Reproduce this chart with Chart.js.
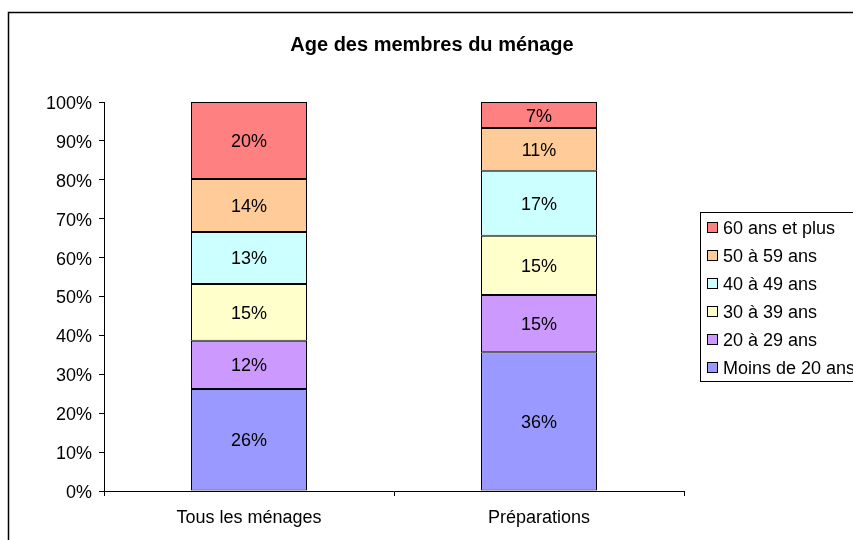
<!DOCTYPE html>
<html>
<head>
<meta charset="utf-8">
<script src="https://cdn.jsdelivr.net/npm/chart.js@4.4.0/dist/chart.umd.min.js"></script>
<style>
  html, body { margin: 0; padding: 0; background: #fff; }
  canvas { display: block; }
</style>
</head>
<body>
<canvas id="c" width="853" height="540"></canvas>
<script>
const chartTitle = "Age des membres du ménage";
const categories = ["Tous les ménages", "Préparations"];
const seriesNames = ["Moins de 20 ans", "20 à 29 ans", "30 à 39 ans", "40 à 49 ans", "50 à 59 ans", "60 ans et plus"];
const moins20 = [26.2, 35.7];
const de20a29 = [12.4, 14.7];
const de30a39 = [14.6, 15.2];
const de40a49 = [13.4, 16.7];
const de50a59 = [13.6, 11.0];
const plus60  = [19.8, 6.7];
const seriesValues = [moins20, de20a29, de30a39, de40a49, de50a59, plus60];
const seriesColors = ["#9999FF", "#CC99FF", "#FFFFCC", "#CCFFFF", "#FFCC99", "#FF8080"];
const yTickValues = [0, 10, 20, 30, 40, 50, 60, 70, 80, 90, 100];

const FONT = "'Liberation Sans', Arial, sans-serif";

const frameAndTitle = {
  id: 'frameAndTitle',
  beforeDraw(chart) {
    const ctx = chart.ctx;
    ctx.save();
    ctx.fillStyle = '#fff';
    ctx.fillRect(0, 0, chart.width, chart.height);
    ctx.strokeStyle = '#000';
    ctx.lineWidth = 1.5;
    ctx.beginPath();
    ctx.moveTo(8.5, chart.height + 2);
    ctx.lineTo(8.5, 12.5);
    ctx.lineTo(chart.width + 2, 12.5);
    ctx.stroke();
    ctx.fillStyle = '#000';
    ctx.font = "bold 20px " + FONT;
    ctx.textAlign = 'center';
    ctx.textBaseline = 'middle';
    ctx.fillText(chartTitle, 432, 45);
    ctx.restore();
  }
};

const valueLabels = {
  id: 'valueLabels',
  afterDatasetsDraw(chart) {
    const ctx = chart.ctx;
    ctx.save();
    ctx.fillStyle = '#000';
    ctx.font = "18px " + FONT;
    ctx.textAlign = 'center';
    ctx.textBaseline = 'middle';
    chart.data.datasets.forEach((ds, di) => {
      const meta = chart.getDatasetMeta(di);
      meta.data.forEach((bar, i) => {
        const v = ds.data[i];
        const yMid = (bar.y + bar.base) / 2;
        ctx.fillText(Math.round(v) + '%', bar.x, yMid + 1.5);
      });
    });
    ctx.restore();
  }
};

const customLegend = {
  id: 'customLegend',
  afterDraw(chart) {
    const ctx = chart.ctx;
    const x0 = 700.5, y0 = 212.5, w = 200, h = 169;
    ctx.save();
    ctx.fillStyle = '#fff';
    ctx.fillRect(x0, y0, w, h);
    ctx.strokeStyle = '#000';
    ctx.lineWidth = 1;
    ctx.strokeRect(x0, y0, w, h);
    ctx.font = "18px " + FONT;
    ctx.textAlign = 'left';
    ctx.textBaseline = 'middle';
    const items = chart.data.datasets.slice().reverse();
    items.forEach((ds, k) => {
      const cy = 228 + k * 28;
      ctx.fillStyle = ds.backgroundColor;
      ctx.fillRect(707.5, cy - 5.5, 10, 10);
      ctx.strokeStyle = '#000';
      ctx.strokeRect(707.5, cy - 5.5, 10, 10);
      ctx.fillStyle = '#000';
      ctx.fillText(ds.label, 723, cy + 1);
    });
    ctx.restore();
  }
};

const datasets = seriesNames.map((name, i) => ({
  label: name,
  data: seriesValues[i],
  backgroundColor: seriesColors[i],
  borderColor: '#000',
  borderWidth: 1,
  borderSkipped: false,
  categoryPercentage: 0.4,
  barPercentage: 1.0
}));

new Chart(document.getElementById('c'), {
  type: 'bar',
  data: { labels: categories, datasets: datasets },
  options: {
    responsive: false,
    animation: false,
    devicePixelRatio: 1,
    layout: { padding: { left: 0, right: 169, top: 102, bottom: 0 } },
    plugins: {
      legend: { display: false },
      title: { display: false },
      tooltip: { enabled: false }
    },
    scales: {
      x: {
        stacked: true,
        afterFit(scale) { scale.height = 49; },
        grid: {
          offset: true,
          drawOnChartArea: false,
          drawTicks: true,
          tickLength: 5,
          color: '#000'
        },
        border: { color: '#000', width: 1 },
        ticks: {
          color: '#000',
          font: { family: FONT, size: 18 },
          padding: 11
        }
      },
      y: {
        stacked: true,
        min: 0,
        max: 100,
        afterFit(scale) { scale.width = 104; },
        afterBuildTicks(scale) { scale.ticks = yTickValues.map(v => ({ value: v })); },
        grid: {
          drawOnChartArea: false,
          drawTicks: true,
          tickLength: 5,
          color: '#000'
        },
        border: { color: '#000', width: 1 },
        ticks: {
          color: '#000',
          font: { family: FONT, size: 18 },
          padding: 7,
          labelOffset: 2,
          callback: v => v + '%'
        }
      }
    }
  },
  plugins: [frameAndTitle, valueLabels, customLegend]
});
</script>
</body>
</html>
